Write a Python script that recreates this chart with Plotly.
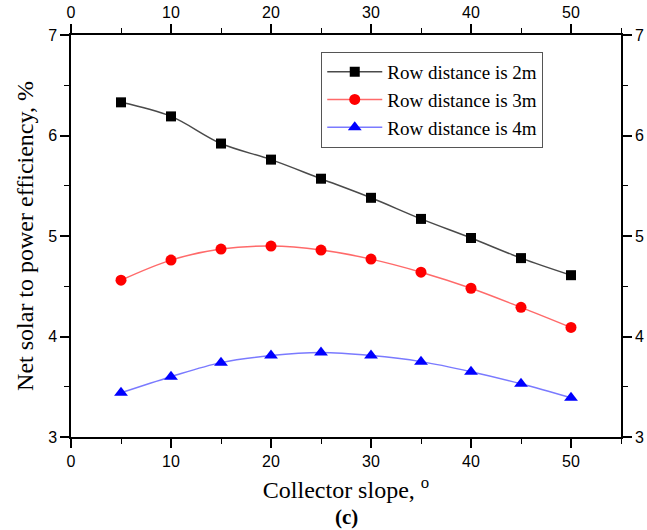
import plotly.graph_objects as go

# Collector slope (degrees)
slope = [5, 10, 15, 20, 25, 30, 35, 40, 45, 50]

# Net solar to power efficiency (%) for each row distance
eff_2m = [6.33, 6.19, 5.92, 5.76, 5.57, 5.38, 5.17, 4.98, 4.78, 4.61]
eff_3m = [4.56, 4.76, 4.87, 4.90, 4.86, 4.77, 4.64, 4.48, 4.29, 4.09]
eff_4m = [3.44, 3.60, 3.74, 3.81, 3.84, 3.81, 3.75, 3.65, 3.53, 3.39]

x_ticks = [0, 10, 20, 30, 40, 50]
y_ticks = [3, 4, 5, 6, 7]

series = [
    ("Row distance is 2m", eff_2m, "#4a4a4a", "#000000", "square", 10),
    ("Row distance is 3m", eff_3m, "#ff6a6a", "#ff0000", "circle", 11),
    ("Row distance is 4m", eff_4m, "#7a7aff", "#0000ff", "triangle-up", 12),
]

fig = go.Figure()
for name, vals, lc, mc, sym, size in series:
    fig.add_trace(go.Scatter(
        x=slope, y=vals, name=name, mode="lines+markers",
        line=dict(color=lc, width=1.5, shape="spline", smoothing=1.0),
        marker=dict(color=mc, symbol=sym, size=size),
    ))

# invisible trace so the mirrored top/right axes are drawn
fig.add_trace(go.Scatter(x=[0], y=[3], xaxis="x2", yaxis="y2",
                         mode="markers", marker=dict(opacity=0),
                         showlegend=False, hoverinfo="skip"))

tick_font = dict(family="Liberation Sans, Arial, sans-serif", size=16, color="#000")
serif = "Liberation Serif, Times New Roman, serif"

axis_common = dict(
    showline=True, linecolor="#000", linewidth=1.5,
    ticks="outside", ticklen=9, tickwidth=1.5, tickcolor="#000",
    showgrid=False, zeroline=False, tickfont=tick_font, automargin=False,
)
minor = dict(ticks="outside", ticklen=5, tickwidth=1.2, tickcolor="#000", showgrid=False)

fig.update_layout(
    width=647, height=530,
    margin=dict(l=71, r=26, t=35, b=93),
    paper_bgcolor="white", plot_bgcolor="white",
    xaxis=dict(range=[0, 55], tickvals=x_ticks, minor=dict(dtick=5, **minor),
               title=dict(text="Collector slope, <sup>o</sup>",
                          font=dict(family=serif, size=24, color="#000"),
                          standoff=12),
               **axis_common),
    yaxis=dict(range=[3, 7], tickvals=y_ticks, minor=dict(dtick=0.5, **minor),
               title=dict(text="Net solar to power efficiency, %",
                          font=dict(family=serif, size=24, color="#000"),
                          standoff=8),
               **axis_common),
    xaxis2=dict(range=[0, 55], tickvals=x_ticks, minor=dict(dtick=5, **minor),
                overlaying="x", side="top", anchor="y2", **axis_common),
    yaxis2=dict(range=[3, 7], tickvals=y_ticks, minor=dict(dtick=0.5, **minor),
                overlaying="y", side="right", anchor="x2", **axis_common),
    legend=dict(x=0.455, y=0.958, xanchor="left", yanchor="top",
                bgcolor="white", bordercolor="#555", borderwidth=1,
                font=dict(family=serif, size=19, color="#000"),
                itemwidth=55, tracegroupgap=0),
    showlegend=True,
)

fig.add_annotation(text="<b>(c)</b>", xref="paper", yref="paper",
                   x=0.5, y=0, yshift=-80, xanchor="center", yanchor="middle",
                   showarrow=False,
                   font=dict(family=serif, size=21, color="#000"))

fig.write_html("out.html")
